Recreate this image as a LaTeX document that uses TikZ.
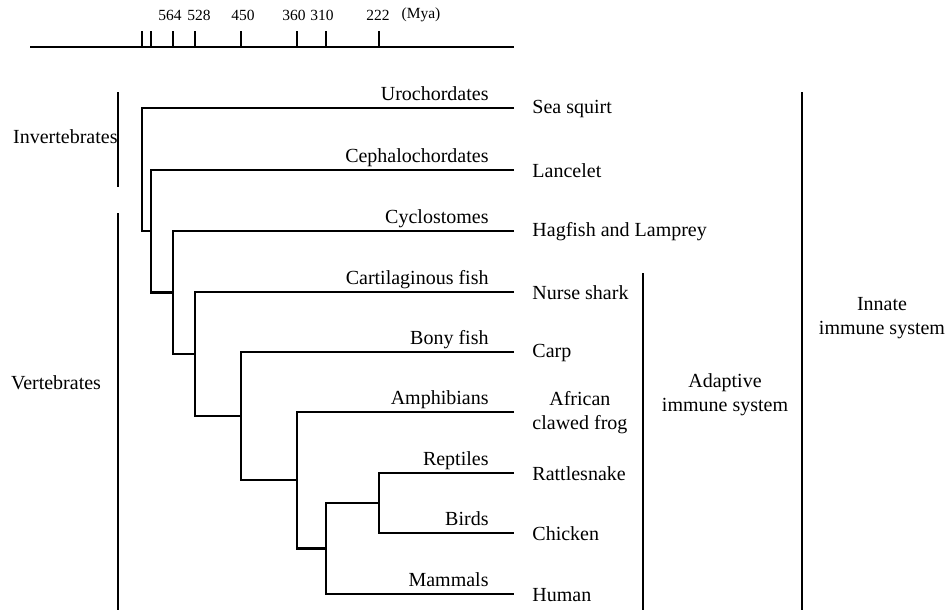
\documentclass[tikz,border=0pt]{standalone}
\usepackage{fontspec}
\setmainfont{Liberation Serif}
\newcommand{\fignodefont}{\fontsize{20}{24}\selectfont}
\newcommand{\axisnodefont}{\fontsize{15.5}{17}\selectfont}
\begin{document}
\begin{tikzpicture}[x=1pt, y=-1pt, line width=2.9pt, line join=miter,
  every node/.style={font=\fignodefont, inner sep=1pt},
  cladelabel/.style={anchor=base east},
  specieslabel/.style={anchor=west, align=center},
  bracketlabel/.style={align=center}]
\useasboundingbox (0,0) rectangle (951,613);
% Time axis (million years ago)
\draw[line width=2.2pt] (30,47) -- (514,47);
\foreach \x in {142,151,173,195,241,297,326,379} {
  \draw[line width=2.4pt] (\x,31) -- (\x,47);
}
\foreach \x/\lab in {170/564, 199/528, 243/450, 294/360, 322/310, 378/222} {
  \node[font=\axisnodefont] (t\lab) at (\x,15) {\lab};
}
\node[font=\axisnodefont] (mya) at (421,15) {(Mya)};
% Leaves: tip of branch, clade name above, species to the right
\foreach \nm/\y/\clade/\species in {
  uro/108/Urochordates/Sea squirt,
  ceph/170/Cephalochordates/Lancelet,
  cyclo/231/Cyclostomes/Hagfish and Lamprey,
  cart/292/Cartilaginous fish/Nurse shark,
  bony/352/Bony fish/Carp,
  amph/412/Amphibians/{African\\clawed frog},
  rept/473/Reptiles/Rattlesnake,
  bird/533/Birds/Chicken,
  mamm/594/Mammals/Human%
} {
  \coordinate (\nm) at (514,\y);
  \node[cladelabel] (cl-\nm) at (491,\y-8) {\clade};
  \node[specieslabel] (sp-\nm) at (530,\y+1) {\species};
}
% Branch points (joined at the middle of the child's bar)
\coordinate (H) at (379,503);
\coordinate (G) at (326,548.5);
\coordinate (F) at (297,480);
\coordinate (E) at (241,416);
\coordinate (D) at (195,354);
\coordinate (C) at (173,292.5);
\coordinate (B) at (151,231);
\coordinate (A) at (142,169.5);
\foreach \up/\nd/\dn in {rept/H/bird, H/G/mamm, amph/F/G, bony/E/F,
  cart/D/E, cyclo/C/D, ceph/B/C, uro/A/B} {
  \draw (\up) -| (\nd) |- (\dn);
}
% Left brackets
\draw (118,92) -- (118,187);
\draw (118,213) -- (118,610);
\node[anchor=east, inner sep=0pt] (inv) at (119,137) {Invertebrates};
\node (vert) at (56,383) {Vertebrates};
% Right brackets
\draw (643,273) -- (643,610);
\node[bracketlabel] (adaptive) at (725,395) {Adaptive\\immune system};
\draw (802,92) -- (802,610);
\node[bracketlabel] (innate) at (882,318) {Innate\\immune system};
\end{tikzpicture}
\end{document}
